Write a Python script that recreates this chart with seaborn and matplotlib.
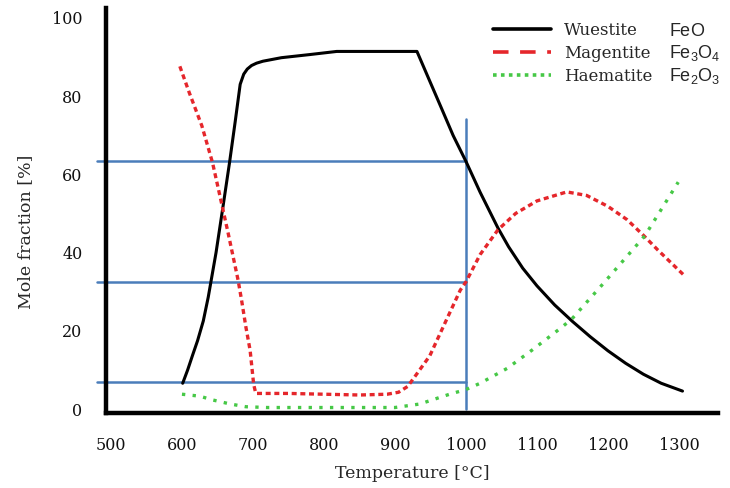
import matplotlib
matplotlib.use("Agg")
import matplotlib.pyplot as plt
from matplotlib.lines import Line2D
import seaborn as sns
import pandas as pd

# ---- data ----
wuestite_temp = [601, 608, 615, 622, 630, 637, 648, 658, 667, 675, 682, 687, 692, 698, 705,
                 714, 740, 780, 818, 860, 900, 931, 950, 965, 982, 1000, 1020, 1045, 1060,
                 1080, 1100, 1125, 1150, 1175, 1200, 1225, 1250, 1275, 1305]
wuestite = [6.6, 10.0, 13.8, 17.5, 22.5, 28.6, 40.0, 52.0, 63.0, 73.5, 83.0, 85.6, 86.9,
            87.8, 88.4, 88.9, 89.8, 90.6, 91.4, 91.4, 91.4, 91.4, 83.4, 77.1, 69.9, 63.3,
            55.4, 46.3, 41.5, 36.0, 31.5, 26.6, 22.4, 18.5, 14.9, 11.7, 8.9, 6.6, 4.6]

magnetite_temp = [597, 610, 628, 643, 651, 665, 679, 684, 690, 696, 701, 704, 750, 800, 850,
                  889, 905, 918, 930, 949, 973, 992, 1000, 1020, 1045, 1070, 1100, 1142, 1170,
                  1200, 1227, 1250, 1270, 1306]
magnetite = [87.6, 81.0, 72.4, 63.0, 56.5, 45.0, 33.0, 27.8, 21.0, 15.0, 6.3, 4.0, 4.0, 3.8,
             3.6, 3.8, 4.3, 5.8, 8.8, 13.6, 23.0, 30.4, 32.5, 39.5, 45.8, 50.0, 53.2, 55.5,
             54.6, 51.8, 48.4, 44.4, 40.7, 34.4]

haematite_temp = [600, 625, 644, 668, 690, 720, 800, 900, 935, 955, 977, 1000, 1020, 1058,
                  1094, 1132, 1149, 1193, 1252, 1299]
haematite = [3.8, 3.3, 2.3, 1.3, 0.6, 0.4, 0.4, 0.4, 1.3, 2.5, 3.8, 5.0, 6.6, 10.4, 15.2,
             20.5, 23.0, 32.0, 44.3, 58.0]

guide_levels = [63.3, 32.4, 6.8]
guide_temp = 1000
guide_top = 74.2
guide_start = 480

x_ticks = [500, 600, 700, 800, 900, 1000, 1100, 1200, 1300]
y_ticks = [0, 20, 40, 60, 80, 100]
names = ["Wuestite", "Magentite", "Haematite"]
formulas = [r"$\mathrm{FeO}$", r"$\mathrm{Fe_3O_4}$", r"$\mathrm{Fe_2O_3}$"]

# ---- style ----
sns.set_style("white")
plt.rcParams["font.family"] = ["DejaVu Serif"]
plt.rcParams["mathtext.fontset"] = "custom"
plt.rcParams["mathtext.rm"] = "Liberation Sans"
plt.rcParams["mathtext.it"] = "Liberation Sans:italic"
plt.rcParams["mathtext.bf"] = "Liberation Sans:bold"

BLACK = "#000000"
RED = "#e5262b"
GREEN = "#46c846"
BLUE = "#4a7dba"

fig = plt.figure(figsize=(7.30, 4.88), dpi=100)
ax = fig.add_axes([106 / 730, 1 - 413 / 488, 612 / 730, 405 / 488])

df_w = pd.DataFrame({"T": wuestite_temp, "v": wuestite})
df_m = pd.DataFrame({"T": magnetite_temp, "v": magnetite})
df_h = pd.DataFrame({"T": haematite_temp, "v": haematite})

# guide lines
for lvl in guide_levels:
    ax.plot([guide_start, guide_temp], [lvl, lvl], color=BLUE, lw=1.8, clip_on=False, zorder=1)
ax.plot([guide_temp, guide_temp], [0, guide_top], color=BLUE, lw=1.8, zorder=1)

sns.lineplot(data=df_w, x="T", y="v", ax=ax, color=BLACK, lw=2.2, errorbar=None,
             estimator=None, sort=False, zorder=3)
sns.lineplot(data=df_m, x="T", y="v", ax=ax, color=RED, lw=2.4, errorbar=None,
             estimator=None, sort=False, linestyle=(0, (1.5, 1.1)), zorder=3)
sns.lineplot(data=df_h, x="T", y="v", ax=ax, color=GREEN, lw=2.4, errorbar=None,
             estimator=None, sort=False, linestyle=(0, (1.0, 2.2)), zorder=3)

ax.set_xlim(493, 1355)
ax.set_ylim(-1, 102.5)
ax.set_xticks(x_ticks)
ax.set_yticks(y_ticks)
ax.tick_params(axis="both", length=0, labelsize=11.5, colors="#111111")
ax.tick_params(axis="x", pad=17)
ax.tick_params(axis="y", pad=17)
for s in ["top", "right"]:
    ax.spines[s].set_visible(False)
for s in ["left", "bottom"]:
    ax.spines[s].set_linewidth(3.2)
    ax.spines[s].set_color("black")
    ax.spines[s].set_zorder(4)

ax.set_xlabel("Temperature [°C]", fontsize=12.5)
ax.set_ylabel("Mole fraction [%]", fontsize=12.5)
ax.xaxis.set_label_coords(0.5, -0.128)
ax.yaxis.set_label_coords(-0.118, 0.447)

handles = [
    Line2D([], [], color=BLACK, lw=2.6),
    Line2D([], [], color=RED, lw=2.6, linestyle=(0, (4.3, 3.2))),
    Line2D([], [], color=GREEN, lw=2.6, linestyle=(0, (1.0, 1.2))),
]
leg = ax.legend(handles, names, loc="upper left", frameon=False,
                bbox_to_anchor=(493 / 730, 1 - 22 / 488), bbox_transform=fig.transFigure,
                borderaxespad=0, borderpad=0, handlelength=3.5, handletextpad=0.75,
                labelspacing=0.35, prop={"family": "DejaVu Serif", "size": 12})

fig.canvas.draw()
for t, f in zip(leg.get_texts(), formulas):
    bb = t.get_window_extent()
    yc = (bb.y0 + bb.y1) / 2
    fig.text(669 / 730, yc / fig.bbox.height, f, fontsize=13, va="center", ha="left")

fig.savefig("out.png", dpi=100)
